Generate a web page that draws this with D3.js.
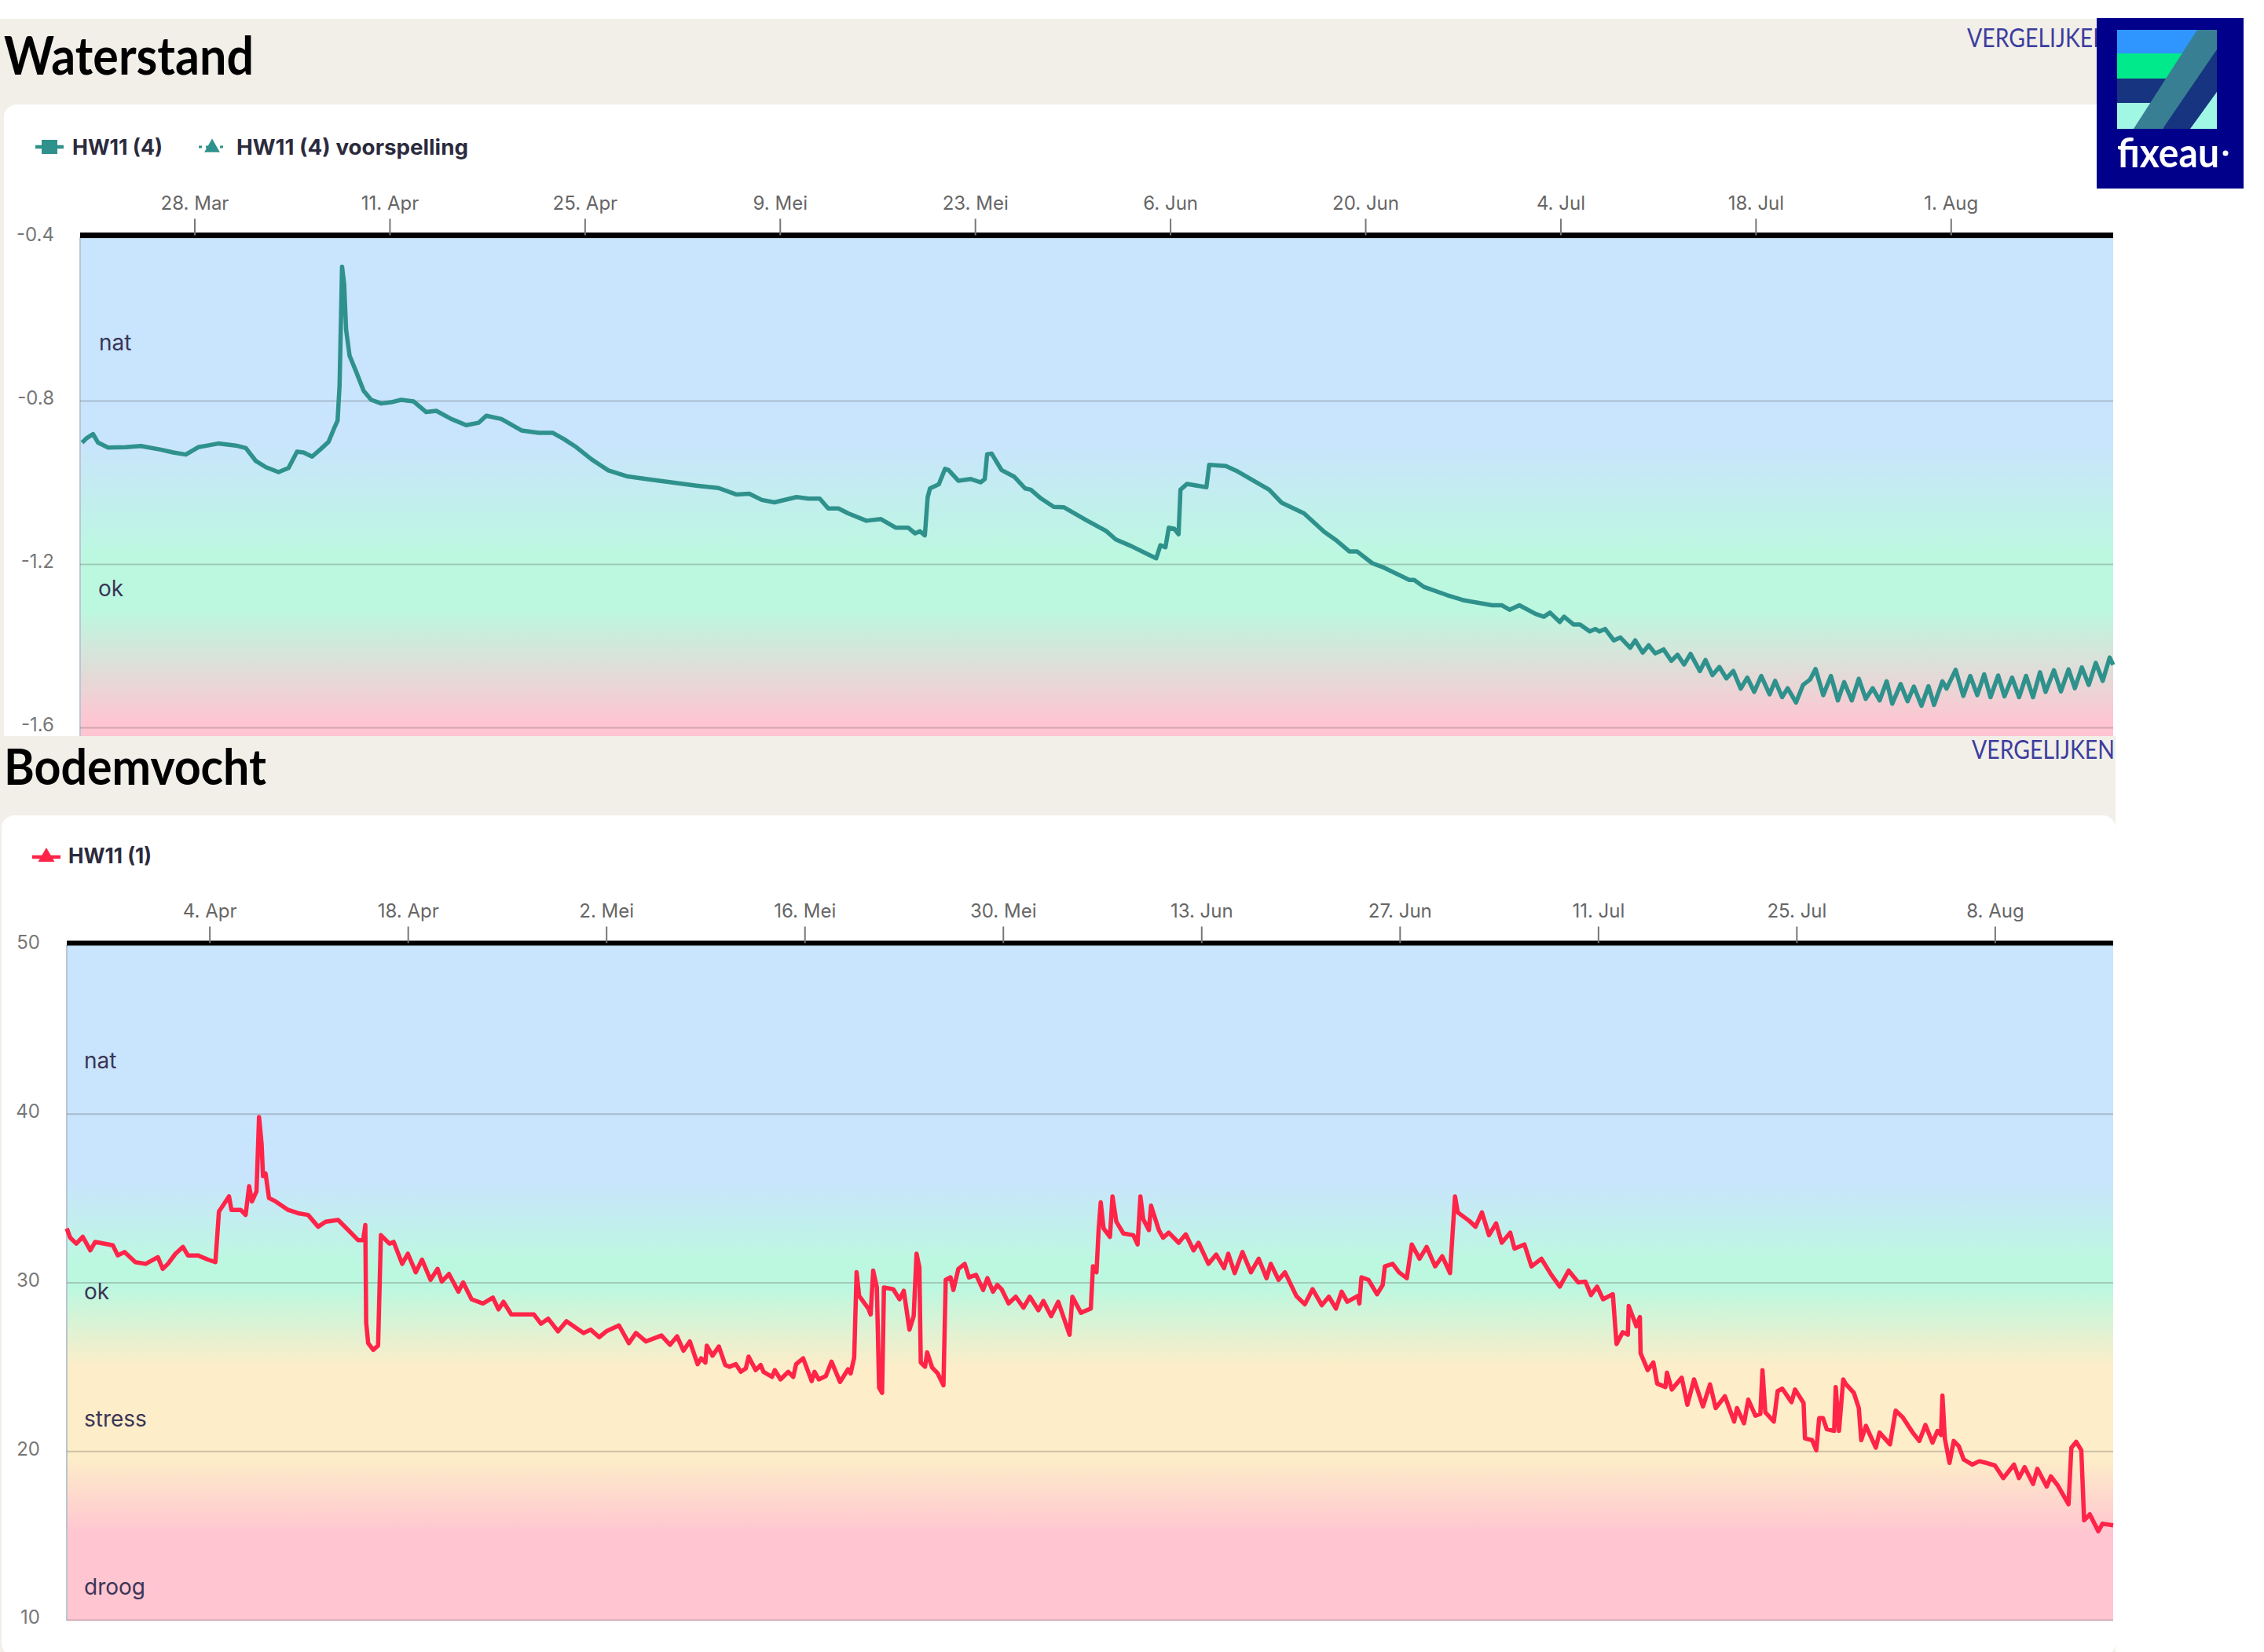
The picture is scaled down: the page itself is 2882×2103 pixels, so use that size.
<!DOCTYPE html>
<html>
<head>
<meta charset="utf-8">
<script src="https://cdn.jsdelivr.net/npm/d3@7"></script>
<style>
html, body { margin: 0; padding: 0; background: #fff; }
svg { display: block; }
text { font-family: Inter, "Open Sans", sans-serif; }
</style>
</head>
<body>
<svg id="place" width="2882" height="2103"></svg>
<script>
// waterstand: days counted from 28 Mar, level in metres
var waterDays = [-8.06,-7.74,-7.27,-6.91,-6.19,-4.93,-3.85,-2.42,-1.52,-0.62,0.27,1.71,2.97,3.69,4.41,5.13,6.03,6.75,7.36,7.83,8.44,9.08,9.62,9.98,10.27,10.41,10.52,10.59,10.74,10.88,11.13,11.6,12.14,12.68,13.4,14.11,14.83,15.73,16.63,17.35,18.43,19.5,20.4,20.94,22.02,23.46,24.7,25.72,26.5,27.4,28.5,29.7,31,32.4,34.2,36,37.6,38.9,39.8,40.7,41.6,
43.2,44.04,44.86,45.47,46.2,46.9,48.2,49.25,50.3,51.2,51.7,52.05,52.4,52.6,52.77,53.4,53.85,54.1,54.8,55.7,56.4,56.7,56.87,57.2,57.9,58.8,59.6,60,60.75,61.65,62.36,64,65.4,66.1,67.2,68.5,69,69.3,69.66,69.9,70.3,70.6,70.74,71.2,72.6,72.8,74,74.76,77.1,78,79.6,81.05,81.95,82.85,83.4,84.5,85.35,87.15,87.5,88.2,89.85,91.1,93.1,93.8,94.35,95.05,
96.2,96.8,97.25,97.95,98.26,98.93,99.4,100.1,100.5,100.8,101.2,101.83,102.3,103,103.36,103.9,104.33,104.8,105.4,105.95,106.4,106.87,107.33,108,108.4,108.9,109.4,109.9,110.4,110.93,111.4,111.9,112.4,113,113.4,113.9,114.3,114.9,115.4,115.9,116.3,116.85,117.4,117.9,118.35,118.9,119.4,119.9,120.4,120.9,121.4,121.8,122.4,122.9,123.35,123.9,124.4,124.8,125.4,125.7,126.35,126.9,127.4,127.9,128.4,128.85,129.4,129.85,130.4,130.9,131.4,131.9,132.4,132.8,133.4,133.9,134.45,134.9,135.4,135.9,136.4,136.9,137.4,137.65];
var waterLevel = [-0.903,-0.892,-0.882,-0.903,-0.915,-0.914,-0.911,-0.92,-0.927,-0.932,-0.914,-0.905,-0.91,-0.916,-0.948,-0.963,-0.975,-0.965,-0.925,-0.927,-0.937,-0.918,-0.901,-0.871,-0.849,-0.764,-0.592,-0.472,-0.515,-0.626,-0.69,-0.729,-0.776,-0.798,-0.807,-0.804,-0.798,-0.802,-0.828,-0.825,-0.845,-0.86,-0.854,-0.837,-0.845,-0.873,-0.879,-0.879,-0.894,-0.914,-0.944,-0.971,-0.985,-0.992,-1,-1.008,-1.014,-1.03,-1.028,-1.043,-1.049,
-1.036,-1.04,-1.04,-1.064,-1.064,-1.076,-1.094,-1.09,-1.111,-1.111,-1.125,-1.12,-1.13,-1.037,-1.015,-1.005,-0.967,-0.97,-0.996,-0.992,-1,-0.992,-0.931,-0.93,-0.97,-0.986,-1.015,-1.018,-1.04,-1.06,-1.061,-1.093,-1.119,-1.14,-1.156,-1.178,-1.186,-1.154,-1.159,-1.111,-1.114,-1.127,-1.018,-1.004,-1.012,-0.957,-0.96,-0.972,-1.018,-1.05,-1.076,-1.121,-1.143,-1.169,-1.169,-1.198,-1.209,-1.239,-1.239,-1.256,-1.276,-1.289,-1.301,-1.301,-1.312,-1.301,
-1.322,-1.329,-1.319,-1.342,-1.329,-1.348,-1.348,-1.365,-1.359,-1.365,-1.359,-1.387,-1.38,-1.405,-1.387,-1.417,-1.399,-1.419,-1.409,-1.437,-1.422,-1.446,-1.42,-1.462,-1.435,-1.472,-1.452,-1.48,-1.462,-1.505,-1.478,-1.513,-1.474,-1.519,-1.486,-1.526,-1.504,-1.539,-1.496,-1.483,-1.457,-1.521,-1.474,-1.534,-1.489,-1.534,-1.481,-1.53,-1.504,-1.534,-1.487,-1.542,-1.494,-1.536,-1.5,-1.547,-1.499,-1.545,-1.487,-1.505,-1.459,-1.523,-1.474,-1.521,-1.47,-1.526,-1.473,-1.524,-1.478,-1.526,-1.474,-1.526,-1.465,-1.513,-1.46,-1.512,-1.458,-1.504,-1.453,-1.496,-1.442,-1.486,-1.429,-1.447];
var waterTickDays = [0,14,28,42,56,70,84,98,112,126];
var waterTickLabels = ["28. Mar","11. Apr","25. Apr","9. Mei","23. Mei","6. Jun","20. Jun","4. Jul","18. Jul","1. Aug"];
var waterLevels = [-0.4,-0.8,-1.2,-1.6];
var waterLevelLabels = ["-0.4","-0.8","-1.2","-1.6"];

// bodemvocht: days counted from 4 Apr, moisture in percent
var moistDays = [-10.07,-9.83,-9.4,-8.94,-8.41,-8.06,-6.82,-6.47,-6,-5.23,-4.5,-3.64,-3.3,-2.93,-2.4,-1.87,-1.52,-0.81,-0.1,0.42,0.67,0.95,1.38,1.55,2.2,2.55,2.8,3,3.32,3.5,3.68,3.78,3.96,4.2,4.67,5.55,6.26,6.96,7.67,8.2,9.08,9.8,10.5,10.85,11,11.06,11.2,11.56,11.9,12.1,12.7,13,13.6,14,14.56,15,15.6,16.1,16.4,16.9,17.57,17.9,18.5,19.3,20,20.4,20.75,21.3,22.9,23.4,23.9,24.6,25.2,26.4,26.9,27.5,28,28.9,29.6,30.1,30.8,31.9,
32.5,33,33.45,33.9,34.45,34.7,35,35.1,35.5,35.95,36.4,36.7,37.15,37.5,37.85,38.05,38.55,38.9,39.1,39.7,39.9,40.3,40.85,41.2,41.4,41.9,42.5,42.7,43,
43.5,43.9,44.5,45.07,45.25,45.5,45.67,45.85,46.5,46.66,46.84,47.1,47.26,47.47,47.6,48.25,48.7,49,49.4,49.7,49.9,50.1,50.2,50.5,50.65,51,51.4,51.8,51.96,52.3,52.5,52.85,53.3,53.6,54.1,54.6,54.9,55.3,55.6,55.9,56.4,56.9,57.45,57.9,58.5,58.85,59.4,59.9,60.7,60.9,61.5,62.2,62.35,62.6,62.75,62.9,63.1,63.55,63.73,64,64.5,65.2,65.5,65.7,65.9,66.3,66.45,67,67.3,67.7,68.4,68.9,69.45,69.8,70.5,71.05,71.6,71.9,72.35,72.9,73.5,74.05,74.6,74.9,75.45,75.9,76.7,77.3,77.85,78.5,79,79.5,79.9,80.3,81.05,81.15,81.3,81.8,82.4,82.8,82.95,83.5,83.95,84.5,84.85,85.4,85.9,86.5,87,87.55,87.9,88.1,88.9,89.35,89.8,90.3,90.8,91.2,91.8,92.1,92.8,93.3,94,94.7,95.3,
95.92,96.6,97.1,97.5,97.93,98.35,99.04,99.3,99.74,100.1,100.16,100.7,100.95,101,101.5,101.9,102.17,102.75,102.86,103.2,103.9,104.3,104.77,105.4,105.9,106.3,106.95,107.6,107.8,108.3,108.6,109.1,109.45,109.6,109.8,110.4,110.67,111,111.65,111.9,112.5,112.6,113.1,113.4,113.6,113.87,114.14,114.66,114.77,115,115.3,115.46,116.05,116.4,116.57,116.9,117.6,117.86,118.6,119,119.5,120.2,120.67,121.1,121.6,121.95,122.2,122.3,122.47,122.8,123.1,123.45,123.8,124.4,124.9,125.4,126,126.6,127.35,127.7,128.1,128.7,129,129.66,129.95,130.45,131.2,131.4,131.74,132.1,132.3,132.7,133.3,133.6,134.35];
var moistLevel = [33.2,32.65,32.3,32.7,31.9,32.4,32.2,31.6,31.8,31.2,31.1,31.5,30.8,31.1,31.7,32.1,31.6,31.6,31.35,31.2,34.2,34.55,35.1,34.3,34.3,34,35.7,34.8,35.4,39.8,38.2,36.3,36.45,35,34.8,34.3,34.1,34,33.3,33.6,33.7,33.1,32.5,32.5,33.4,27.6,26.4,26,26.25,32.8,32.3,32.4,31.1,31.7,30.6,31.35,30.15,30.8,30.05,30.5,29.45,30,29,28.75,29.1,28.4,28.85,28.1,28.1,27.55,27.85,27.1,27.7,27,27.2,26.75,27.1,27.45,26.4,27,26.5,26.85,
26.3,26.8,25.95,26.5,25.15,25.5,25.25,26.25,25.65,26.2,25.1,25,25.15,24.7,24.9,25.6,24.8,25.1,24.7,24.4,24.8,24.25,24.7,24.4,25.15,25.5,24.15,24.7,24.25,
24.45,25.3,24.1,24.85,24.6,25.55,30.6,29.2,28.45,28.1,30.7,29.7,23.75,23.45,29.7,29.6,29,29.5,27.2,28,31.7,30.9,25.25,25,25.85,24.95,24.6,23.9,30.15,30.3,29.55,30.8,31.1,30.3,30.45,29.55,30.25,29.45,29.85,29.6,28.75,29.15,28.5,29.15,28.35,28.9,28,28.85,26.9,29.15,28.2,28.45,30.95,30.6,33.1,34.75,33.2,32.7,35.1,33.6,32.9,32.8,32.25,35.1,33.75,33.1,34.55,33.1,32.65,32.95,32.35,32.85,31.9,32.35,31.1,31.65,30.85,31.7,30.55,31.8,30.6,31.4,30.25,31.1,30.15,30.6,29.2,28.7,29.6,28.65,29.15,28.45,29.45,28.85,29.2,28.75,30.3,30.15,29.3,29.85,30.95,31.1,30.6,30.25,32.25,31.4,32.1,30.95,31.55,30.55,35.1,34.15,33.65,33.3,34.15,32.8,33.5,32.35,32.95,32,32.25,30.95,31.4,30.45,29.75,
30.7,30,30.05,29.25,29.75,29,29.3,26.35,27.05,26.9,28.6,27.4,27.95,25.8,24.8,25.25,24,23.8,24.65,23.65,24.35,22.75,24.25,22.65,23.95,22.55,23.25,21.75,22.55,21.65,23.05,22.1,22.2,24.8,22.3,21.75,23.55,23.7,22.9,23.65,22.85,20.75,20.65,20.05,21.95,21.95,21.3,21.2,23.8,21.2,24.25,24,23.45,22.55,20.65,21.5,20.2,21.1,20.4,22.4,22,21.1,20.6,21.55,20.5,21.2,20.95,23.3,20.75,19.3,20.6,20.3,19.5,19.2,19.4,19.3,19.15,18.4,19.2,18.4,19.05,18.05,18.95,17.9,18.5,17.95,16.85,20.2,20.55,20.05,15.9,16.25,15.25,15.7,15.6];
var moistTickDays = [0,14,28,42,56,70,84,98,112,126];
var moistTickLabels = ["4. Apr","18. Apr","2. Mei","16. Mei","30. Mei","13. Jun","27. Jun","11. Jul","25. Jul","8. Aug"];
var moistLevels = [50,40,30,20,10];
var moistLevelLabels = ["50","40","30","20","10"];

var svg = d3.select("#place");
var defs = svg.append("defs");
var beige = "#f1efe8";

var dayDate = function(start) {
    return function(d) { return new Date(start + d * 864e5); };
};
var waterDate = dayDate(Date.UTC(2023, 2, 28));
var moistDate = dayDate(Date.UTC(2023, 3, 4));

// page background, cards
svg.append("rect").attr("x", 0).attr("y", 24).attr("width", 2693).attr("height", 2079).attr("fill", beige);
svg.append("rect").attr("x", 5).attr("y", 133).attr("width", 2688).attr("height", 830).attr("rx", 16).attr("fill", "#fff");
svg.append("rect").attr("x", 0).attr("y", 937).attr("width", 2693).attr("height", 102).attr("fill", beige);
svg.append("rect").attr("x", 2).attr("y", 1038).attr("width", 2691).attr("height", 1070).attr("rx", 16).attr("fill", "#fff");
svg.append("rect").attr("x", 2693).attr("y", 133).attr("width", 189).attr("height", 1970).attr("fill", "#fff");

var panel = function(o) {
    var x = d3.scaleUtc().domain(o.xDomain).range([o.left, 2690]);
    var y = d3.scaleLinear().domain(o.yDomain).range([o.top, o.bottom]);
    var g = svg.append("g");

    var grad = defs.append("linearGradient")
	.attr("id", o.id)
	.attr("gradientUnits", "userSpaceOnUse")
	.attr("x1", 0).attr("x2", 0)
	.attr("y1", o.top).attr("y2", o.plotBottom);
    o.stops.forEach(function(s) {
	grad.append("stop")
	    .attr("offset", (y(s[0]) - o.top) / (o.plotBottom - o.top))
	    .attr("stop-color", s[1]);
    });
    g.append("rect")
	.attr("x", o.left).attr("y", o.top)
	.attr("width", 2690 - o.left).attr("height", o.plotBottom - o.top)
	.attr("fill", "url(#" + o.id + ")");
    g.append("line")
	.attr("x1", o.left).attr("x2", o.left)
	.attr("y1", o.top).attr("y2", o.plotBottom)
	.attr("stroke", "#b9c6d2").attr("stroke-width", 2);

    var yAxis = d3.axisLeft(y)
	.tickValues(o.levels)
	.tickSize(-(2690 - o.left))
	.tickPadding(o.yPad)
	.tickFormat(function(d, i) { return o.levelLabels[i]; });
    var ya = g.append("g").attr("transform", "translate(" + o.left + ",0)").call(yAxis);
    ya.select(".domain").remove();
    ya.selectAll("line").attr("stroke", "#555").attr("stroke-opacity", 0.28).attr("stroke-width", 2);
    ya.selectAll("text")
	.attr("fill", "#777").attr("dy", "0.2em")
	.style("font-size", "24px");

    var xAxis = d3.axisTop(x)
	.tickValues(o.tickDays.map(o.toDate))
	.tickSize(21)
	.tickPadding(12)
	.tickFormat(function(d, i) { return o.tickLabels[i]; });
    var xa = g.append("g").attr("transform", "translate(0," + (o.top - 2.5) + ")").call(xAxis);
    xa.select(".domain").attr("stroke", "#000").attr("stroke-width", o.axisWidth)
	.attr("d", "M" + o.left + ",0H2690");
    xa.selectAll(".tick line").attr("stroke", "#777").attr("stroke-width", 2);
    xa.selectAll("text").attr("fill", "#666").style("font-size", "24px");

    o.zones.forEach(function(z) {
	g.append("text")
	    .attr("x", z[1]).attr("y", z[2])
	    .attr("fill", "#3b3556")
	    .style("font-size", "28px")
	    .text(z[0]);
    });

    var line = d3.line()
	.x(function(d, i) { return x(o.toDate(o.days[i])); })
	.y(function(d) { return y(d); });
    g.append("path")
	.datum(o.values)
	.attr("d", line)
	.attr("fill", "none")
	.attr("stroke", o.color)
	.attr("stroke-width", o.lineWidth)
	.attr("stroke-linejoin", "round");
};

panel({
    id: "waterBg", left: 102, top: 302, bottom: 926, plotBottom: 937,
    xDomain: [waterDate(-8.2), waterDate(137.65)], yDomain: [-0.4, -1.6],
    toDate: waterDate, days: waterDays, values: waterLevel,
    tickDays: waterTickDays, tickLabels: waterTickLabels,
    levels: waterLevels, levelLabels: waterLevelLabels,
    axisWidth: 7, yPad: 33, color: "#2f918c", lineWidth: 5.5,
    stops: [[-0.4, "#c9e4fd"], [-0.896, "#c9e4fd"], [-1.179, "#bcf8e0"], [-1.313, "#bcf8e0"], [-1.588, "#ffc5d1"]],
    zones: [["nat", 126, 446], ["ok", 125, 759]]
});

panel({
    id: "moistBg", left: 85, top: 1203, bottom: 2062, plotBottom: 2063,
    xDomain: [moistDate(-10.07), moistDate(134.35)], yDomain: [50, 10],
    toDate: moistDate, days: moistDays, values: moistLevel,
    tickDays: moistTickDays, tickLabels: moistTickLabels,
    levels: moistLevels, levelLabels: moistLevelLabels,
    axisWidth: 6, yPad: 34, color: "#ff2448", lineWidth: 5.5,
    stops: [[50, "#c9e4fd"], [36.2, "#c9e4fd"], [31.2, "#bcf8e0"], [29.7, "#bcf8e0"], [25, "#fdedc8"], [19.6, "#fdedc8"], [15.1, "#ffc5d1"], [10, "#ffc5d1"]],
    zones: [["nat", 107, 1360], ["ok", 107, 1654], ["stress", 107, 1816], ["droog", 107, 2030]]
});

// headings
var label = function(txt, xp, yp, size, weight, fill, width, family) {
    return svg.append("text")
	.attr("x", xp).attr("y", yp)
	.attr("fill", fill)
	.attr("textLength", width)
	.attr("lengthAdjust", "spacingAndGlyphs")
	.style("font-size", size + "px")
	.style("font-weight", weight)
	.style("font-family", family || null)
	.text(txt);
};
label("Waterstand", 5, 95, 66, 700, "#000", 318, "Lato");
label("Bodemvocht", 5, 999, 64, 700, "#000", 334, "Lato");
label("VERGELIJKEN", 2504, 60, 32, 400, "#3d3d9e", 182, "Lato");
label("VERGELIJKEN", 2510, 966, 32, 400, "#3d3d9e", 182, "Lato");

// legends
var teal = "#2f918c", red = "#ff2448";
var triangle = d3.symbol().type(d3.symbolTriangle);
svg.append("line").attr("x1", 45).attr("x2", 81).attr("y1", 187).attr("y2", 187).attr("stroke", teal).attr("stroke-width", 4.5);
svg.append("rect").attr("x", 53).attr("y", 178).attr("width", 20).attr("height", 18).attr("fill", teal);
label("HW11 (4)", 92, 197, 27, 700, "#2b2b3d", 115);
svg.append("line").attr("x1", 253).attr("x2", 287).attr("y1", 187).attr("y2", 187).attr("stroke", teal).attr("stroke-width", 3).attr("stroke-dasharray", "4 5");
svg.append("path").attr("d", triangle.size(170)()).attr("transform", "translate(270,188)").attr("fill", teal);
label("HW11 (4) voorspelling", 301, 197, 27, 700, "#2b2b3d", 295);
svg.append("line").attr("x1", 41).attr("x2", 77).attr("y1", 1091).attr("y2", 1091).attr("stroke", red).attr("stroke-width", 4.5);
svg.append("path").attr("d", triangle.size(190)()).attr("transform", "translate(59,1091)").attr("fill", red);
label("HW11 (1)", 87, 1099, 27, 700, "#2b2b3d", 106);

// fixeau logo
var logo = svg.append("g");
logo.append("rect").attr("x", 2669).attr("y", 23).attr("width", 187).attr("height", 217).attr("fill", "#00008b");
var bandTop = [38, 68, 100, 131], bandH = [30, 32, 31, 33];
var bandColor = ["#2f96ff", "#00e98a", "#16347f", "#9ff7e4"];
bandTop.forEach(function(t, i) {
    logo.append("rect").attr("x", 2695).attr("y", t).attr("width", 127).attr("height", bandH[i]).attr("fill", bandColor[i]);
});
logo.append("polygon").attr("points", "2822,38 2822,164 2753,164").attr("fill", "#16347f");
logo.append("polygon").attr("points", "2822,117 2822,164 2788,164").attr("fill", "#9ff7e4");
logo.append("polygon").attr("points", "2797,38 2822,38 2822,63 2753,164 2716,164").attr("fill", "#397f94");
label("fixeau", 2695, 213, 52, 700, "#fff", 130, "Lato");
logo.append("circle").attr("cx", 2833).attr("cy", 195).attr("r", 3.5).attr("fill", "#fff");
</script>
</body>
</html>
